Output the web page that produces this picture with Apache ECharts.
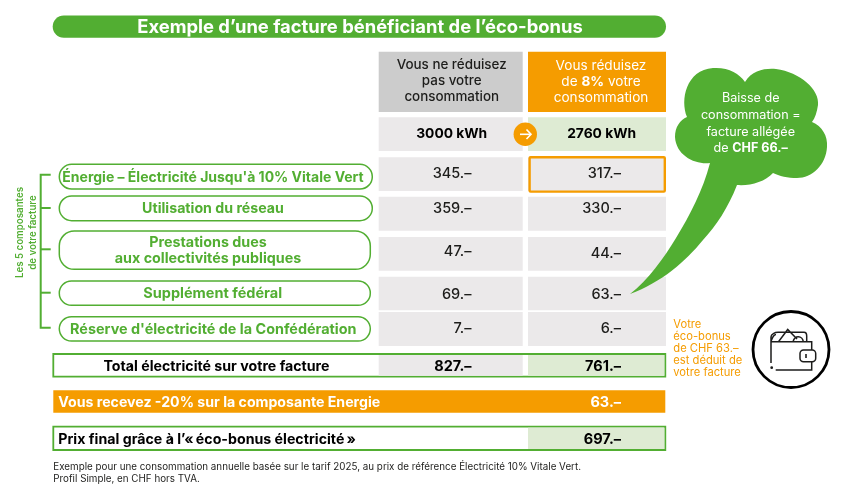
<!DOCTYPE html>
<html lang="fr">
<head>
<meta charset="utf-8">
<title>Exemple d'une facture</title>
<script src="https://cdn.jsdelivr.net/npm/echarts@6/dist/echarts.min.js"></script>
<style>
  html, body { margin: 0; padding: 0; background: #fff; }
  #chart { width: 846px; height: 494px; }
</style>
</head>
<body>
<div id="chart"></div>
<script>
var chartTitle = "Exemple d’une facture bénéficiant de l’éco-bonus"
var components = ["Énergie – Électricité Jusqu'à 10% Vitale Vert", 'Utilisation du réseau', 'Prestations dues\naux collectivités publiques', 'Supplément fédéral', "Réserve d'électricité de la Confédération"]
var currentAmounts = [345, 359, 47, 69, 7]
var reducedAmounts = [317, 330, 44, 63, 6]
var consumption = [3000, 2760]
var totals = [827, 761]
var bonusValue = 63
var finalPrice = 697
var totalLabel = 'Total électricité sur votre facture'
var bonusLabel = 'Vous recevez -20% sur la composante Energie'
var finalLabel = 'Prix final grâce à l’«\u202féco-bonus électricité\u202f»'
var headers = ['Vous ne réduisez\npas votre\nconsommation', 'Vous réduisez\nde {b|8%} votre\nconsommation']
var cloudLines = ['Baisse de', 'consommation =', 'facture allégée', 'de {b|CHF 66.–}']
var noteLines = ['Votre', 'éco-bonus', 'de CHF 63.–', 'est déduit de', 'votre facture']
var sideLines = ['Les 5 composantes', 'de votre facture']
var footnote = ['Exemple pour une consommation annuelle basée sur le tarif 2025, au prix de référence Électricité 10% Vitale Vert.', 'Profil Simple, en CHF hors TVA.']

// mise en page, en unités d'axe (1 unité = 1 px)
var GREEN = '#52ae32'
var ORANGE = '#f59c00'
var GREY = '#ebe9ea'
var PALE = '#deebd3'
var INK = '#1d1d1b'
var FONT = 'Inter, "Liberation Sans", sans-serif'
var colX = [[378.7, 522.7], [528, 666]]
var amountRight = [471.5, 621]
var rowY = [[157.3, 191], [196.7, 230.7], [237, 270.7], [276.7, 310.3], [312, 346]]
var amountMid = [[172.7, 172.7], [208, 208], [250.7, 253], [294, 294], [328, 328]]
var pillY = [[164.3, 189], [196, 220.7], [231, 269.3], [281, 305.3], [316.7, 341]]
var pillRight = [372.3, 372.3, 370.3, 370.3, 370.3]
var pillTextX = [213, 213, 208, 212.7, 213.3]
var pillFont = [14, 14.2, 14.3, 14.5, 14.4]
var pillLeft = 59.3
var bandLeft = 53.3
var bandRight = 665.3

function money (v) { return v + '.–' }

function rectAt (api, x0, y0, x1, y1, style, r) {
  var a = api.coord([x0, y0])
  var b = api.coord([x1, y1])
  return { type: 'rect', shape: { x: a[0], y: a[1], width: b[0] - a[0], height: b[1] - a[1], r: r || 0 }, style: style }
}
function textAt (api, x, y, text, font, fill, align, rich) {
  var p = api.coord([x, y + 0.7])
  return { type: 'text', z2: 5, style: { x: p[0], y: p[1], text: text, font: font, fill: fill, align: align || 'center', verticalAlign: 'middle', lineHeight: 15.8, rich: rich } }
}

// montants : [colonne, ligne, valeur]
var amountData = []
currentAmounts.forEach(function (v, i) { amountData.push([0, i, v]) })
reducedAmounts.forEach(function (v, i) { amountData.push([1, i, v]) })

function renderAmount (params, api) {
  var col = api.value(0)
  var row = api.value(1)
  var kids = [
    rectAt(api, colX[col][0], rowY[row][0], colX[col][1], rowY[row][1], { fill: GREY }),
    textAt(api, amountRight[col], amountMid[row][col], money(api.value(2)), '500 14.5px ' + FONT, INK, 'right')
  ]
  if (col === 1 && row === 0) {
    kids.push(rectAt(api, 529.6, 157.2, 664.8, 191.6, { fill: 'none', stroke: ORANGE, lineWidth: 2.4 }, 1))
  }
  return { type: 'group', children: kids }
}

function renderPill (params, api) {
  var i = params.dataIndex
  var y0 = pillY[i][0]
  var y1 = pillY[i][1]
  var lines = String(components[i]).split('\n')
  var mid = (y0 + y1) / 2
  var kids = [rectAt(api, pillLeft, y0, pillRight[i], y1, { fill: '#fff', stroke: GREEN, lineWidth: 1.5 }, (y1 - y0) / 2 > 15 ? 15 : (y1 - y0) / 2)]
  lines.forEach(function (t, k) {
    kids.push(textAt(api, pillTextX[i], mid + (k - (lines.length - 1) / 2) * 15.7, t, '700 ' + pillFont[i] + 'px ' + FONT, GREEN))
  })
  return { type: 'group', children: kids }
}

var bandData = [
  { y: [354, 376.7], label: totalLabel, labelX: 216.5, amounts: totals },
  { y: [390.3, 412.7], label: bonusLabel, labelX: 58.3, amounts: [null, bonusValue] },
  { y: [426.7, 450], label: finalLabel, labelX: 58.3, amounts: [null, finalPrice] }
]

function renderBand (params, api) {
  var band = bandData[params.dataIndex]
  var y0 = band.y[0]
  var y1 = band.y[1]
  var mid = (y0 + y1) / 2 + 0.8
  var kids = []
  if (params.dataIndex === 1) {
    kids.push(rectAt(api, bandLeft, y0, bandRight, y1, { fill: ORANGE }))
    kids.push(textAt(api, band.labelX, mid, band.label, '700 14.15px ' + FONT, '#fff', 'left'))
    kids.push(textAt(api, amountRight[1], mid, money(band.amounts[1]), '700 14.5px ' + FONT, '#fff', 'right'))
  } else {
    kids.push(rectAt(api, bandLeft, y0, bandRight, y1, { fill: '#fff', stroke: GREEN, lineWidth: 1.8 }))
    if (band.amounts[0] !== null) kids.push(rectAt(api, colX[0][0], y0 + 1, colX[0][1], y1 - 1, { fill: GREY }))
    kids.push(rectAt(api, colX[1][0], y0 + 1, bandRight - 1, y1 - 1, { fill: PALE }))
    kids.push(textAt(api, band.labelX, mid, band.label, '700 14.2px ' + FONT, '#000', params.dataIndex === 0 ? 'center' : 'left'))
    band.amounts.forEach(function (v, col) {
      if (v !== null) kids.push(textAt(api, amountRight[col], mid, money(v), '700 14.5px ' + FONT, '#000', 'right'))
    })
  }
  return { type: 'group', children: kids }
}

function renderHeader (params, api) {
  var col = api.value(0)
  var kids = [
    rectAt(api, colX[col][0], 51.7, colX[col][1], 112, { fill: col === 0 ? '#cccccc' : ORANGE }),
    rectAt(api, colX[col][0], 117.3, colX[col][1], 151, { fill: col === 0 ? GREY : PALE })
  ]
  var head = textAt(api, col === 0 ? 451.7 : 601, col === 0 ? 80.3 : 81.5, headers[col], (col === 0 ? '500 13.4px ' : '400 13.6px ') + FONT, col === 0 ? INK : '#fff', 'center',
    { b: { font: '700 13.6px ' + FONT, fill: '#fff', lineHeight: 15.8 } })
  kids.push(head)
  kids.push(textAt(api, col === 0 ? 451.7 : 601.6, 133.5, api.value(1) + ' kWh', '700 13.8px ' + FONT, '#000'))
  return { type: 'group', children: kids }
}

var cloudPath = 'M630 294 C648 280 664 258 676 238 C690 215 703 190 710 163 C696 165 676 156 675 137 C675 127 680 120 687 117 C680 100 686 70 713 68 C728 67 739 73 745 82 C752 70 766 68 776 69 C800 72 820 90 818 105 C817 112 815 118 812 122 C822 126 828 136 827 147 C826 165 812 178 797 178 C788 178 779 176 773 173 C765 182 750 186 737 185 C728 208 716 226 703 240 C685 262 662 282 630 294 Z'
var walletPath = 'M771 363 L771 337 C771 334 775 332.3 778 332.3 L804 332.3 C806 332.3 806.7 334 806.7 336 L806.7 341.7 M771.5 341.7 L778.5 341.7 L787.7 329.5 L797 339 M793 341.7 C794 338 796 336.7 798.3 336.7 C801 336.7 803 339 803.3 341.7 M778.5 341.7 L811.7 341.7 L811.7 350 M811.7 361.7 L811.7 370 L775.7 370 M771 341 C772 340 772.5 335 776 334.5'

function renderCloud () {
  return { type: 'path', shape: { pathData: cloudPath }, style: { fill: GREEN } }
}
function renderWallet () {
  return { type: 'path', shape: { pathData: walletPath }, style: { fill: 'none', stroke: INK, lineWidth: 1.5 } }
}

var chart = echarts.init(document.getElementById('chart'), null, { renderer: 'canvas' })

chart.setOption({
  animation: false,
  backgroundColor: '#fff',
  grid: { left: 0, right: 0, top: 0, bottom: 0 },
  xAxis: { type: 'value', min: 0, max: 846, show: false },
  yAxis: { type: 'value', min: 0, max: 494, inverse: true, show: false },
  series: [
    { type: 'custom', name: 'entetes', renderItem: renderHeader, clip: false, data: consumption.map(function (v, i) { return [i, v] }) },
    { type: 'custom', name: 'montants', renderItem: renderAmount, clip: false, data: amountData },
    { type: 'custom', name: 'composantes', renderItem: renderPill, clip: false, data: components.map(function (c, i) { return [i] }) },
    { type: 'custom', name: 'bandes', renderItem: renderBand, clip: false, data: bandData.map(function (b, i) { return [i] }) },
    { type: 'custom', name: 'bulle', z: 8, renderItem: renderCloud, clip: false, data: [[0]] },
    { type: 'custom', name: 'portefeuille', z: 8, renderItem: renderWallet, clip: false, data: [[0]] }
  ],
  graphic: [
    // titre
    { type: 'rect', shape: { x: 52.7, y: 15.5, width: 613.3, height: 22.2, r: 11.1 }, style: { fill: GREEN } },
    { type: 'text', style: { x: 360, y: 27.5, text: chartTitle, font: '700 18.4px ' + FONT, fill: '#fff', align: 'center', verticalAlign: 'middle' } },
    // flèche entre les deux colonnes
    { type: 'circle', z: 10, shape: { cx: 525.3, cy: 134.3, r: 11.7 }, style: { fill: ORANGE } },
    { type: 'polyline', z: 11, shape: { points: [[520, 134.3], [531, 134.3]] }, style: { stroke: '#fff', lineWidth: 1.6, fill: 'none' } },
    { type: 'polyline', z: 11, shape: { points: [[526.5, 129.5], [531, 134.3], [526.5, 139]] }, style: { stroke: '#fff', lineWidth: 1.6, fill: 'none' } },
    // accolade des 5 composantes
    { type: 'polyline', shape: { points: [[50.7, 174.7], [40.7, 174.7], [40.7, 327.7], [50.7, 327.7]] }, style: { stroke: GREEN, lineWidth: 2, fill: 'none' } },
    { type: 'line', shape: { x1: 40.7, y1: 208, x2: 50.7, y2: 208 }, style: { stroke: GREEN, lineWidth: 2 } },
    { type: 'line', shape: { x1: 40.7, y1: 249.3, x2: 50.7, y2: 249.3 }, style: { stroke: GREEN, lineWidth: 2 } },
    { type: 'line', shape: { x1: 40.7, y1: 292.7, x2: 50.7, y2: 292.7 }, style: { stroke: GREEN, lineWidth: 2 } },
    { type: 'text', x: 20.3, y: 232.5, rotation: Math.PI / 2, originX: 0, originY: 0, style: { x: 0, y: 0, text: sideLines[0], font: '600 9.7px ' + FONT, fill: GREEN, align: 'center', verticalAlign: 'middle' } },
    { type: 'text', x: 33.3, y: 232.5, rotation: Math.PI / 2, originX: 0, originY: 0, style: { x: 0, y: 0, text: sideLines[1], font: '600 9.7px ' + FONT, fill: GREEN, align: 'center', verticalAlign: 'middle' } },
    // texte de la bulle
    { type: 'text', z: 9, style: { x: 750.7, y: 98.6, text: cloudLines[0], font: '400 12.6px ' + FONT, fill: '#fff', align: 'center', verticalAlign: 'middle' } },
    { type: 'text', z: 9, style: { x: 750.7, y: 115.3, text: cloudLines[1], font: '400 12.6px ' + FONT, fill: '#fff', align: 'center', verticalAlign: 'middle' } },
    { type: 'text', z: 9, style: { x: 750.7, y: 132, text: cloudLines[2], font: '400 12.6px ' + FONT, fill: '#fff', align: 'center', verticalAlign: 'middle' } },
    { type: 'text', z: 9, style: { x: 750.7, y: 148, text: cloudLines[3], font: '400 12.6px ' + FONT, fill: '#fff', align: 'center', verticalAlign: 'middle', rich: { b: { font: '700 12.6px ' + FONT, fill: '#fff' } } } },
    // note orange
    { type: 'text', style: { x: 673.3, y: 324.8, text: noteLines[0], font: '400 11.2px ' + FONT, fill: ORANGE, verticalAlign: 'middle' } },
    { type: 'text', style: { x: 673.3, y: 336.8, text: noteLines[1], font: '400 11.2px ' + FONT, fill: ORANGE, verticalAlign: 'middle' } },
    { type: 'text', style: { x: 673.3, y: 348.7, text: noteLines[2], font: '400 11.2px ' + FONT, fill: ORANGE, verticalAlign: 'middle' } },
    { type: 'text', style: { x: 673.3, y: 360.7, text: noteLines[3], font: '400 11.2px ' + FONT, fill: ORANGE, verticalAlign: 'middle' } },
    { type: 'text', style: { x: 673.3, y: 372.5, text: noteLines[4], font: '400 11.2px ' + FONT, fill: ORANGE, verticalAlign: 'middle' } },
    // portefeuille
    { type: 'circle', z: 1, shape: { cx: 791, cy: 349.5, r: 38 }, style: { fill: '#fff', stroke: '#000', lineWidth: 2.8 } },
    { type: 'rect', z: 9, shape: { x: 800, y: 350, width: 15.7, height: 11.7, r: 3.5 }, style: { fill: '#fff', stroke: INK, lineWidth: 1.5 } },
    { type: 'line', z: 9, shape: { x1: 806, y1: 354, x2: 806, y2: 358 }, style: { stroke: INK, lineWidth: 1.6 } },
    { type: 'circle', z: 9, shape: { cx: 771.7, cy: 367.7, r: 1.4 }, style: { fill: INK } },
    // note de bas de page
    { type: 'text', style: { x: 53.3, y: 466.7, text: footnote[0], font: '400 9.82px ' + FONT, fill: INK, verticalAlign: 'middle' } },
    { type: 'text', style: { x: 53.3, y: 479.3, text: footnote[1], font: '400 9.82px ' + FONT, fill: INK, verticalAlign: 'middle' } }
  ]
})
</script>
</body>
</html>
